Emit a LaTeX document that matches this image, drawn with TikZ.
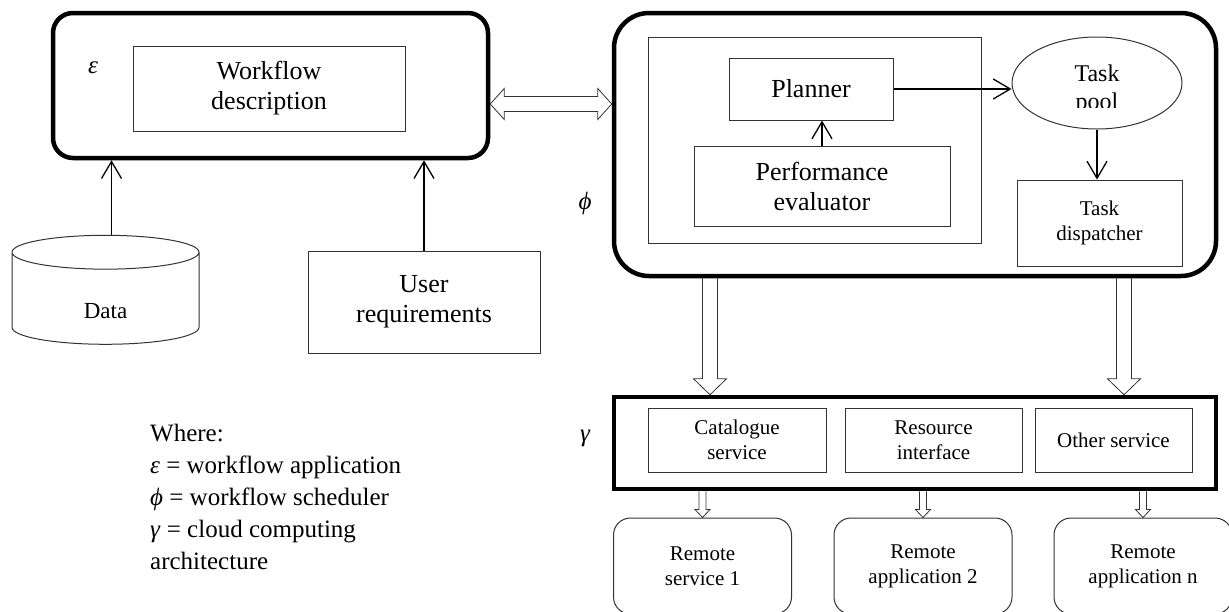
\documentclass[tikz,border=0pt]{standalone}
\usepackage{fontspec}
\setmainfont{Liberation Serif}
\usepackage{amsmath}
\usepackage{tikz}
\usetikzlibrary{shapes,arrows.meta,calc,positioning}
\tikzset{
  thickR/.style={ draw, line width=4.5pt, rounded corners=#1, inner sep=0pt }
}
\tikzset{
  boxL/.style={ draw=black!80, line width=1pt, align=center, inner sep=0pt, font=\fontsize{26}{30}\selectfont }
}
\tikzset{
  boxS/.style={ draw=black!80, line width=1pt, align=center, inner sep=0pt, font=\fontsize{21}{25}\selectfont }
}
\tikzset{
  remote/.style={ boxS, rounded corners=17pt, minimum width=178pt, minimum height=96pt }
}
\tikzset{
  symb/.style={ inner sep=0pt, font=\fontsize{25}{25}\selectfont\itshape }
}
\tikzset{
  conn/.style={ line width=1.3pt, -{Straight Barb[length=17pt, width=20pt]} }
}
% fat hollow arrow: shaft half width / head half width / head length
\tikzset{
  hollow/.style args={#1/#2/#3}{ draw=black!80, line width=0.8pt, to path={
    let \p1=($(\tikztotarget)!#3!(\tikztostart)$) in
    ($(\tikztostart)!#1!90:(\tikztotarget)$) -- ($(\p1)!#1!90:(\tikztotarget)$)
    -- ($(\p1)!#2!90:(\tikztotarget)$) -- (\tikztotarget)
    -- ($(\p1)!#2!-90:(\tikztotarget)$) -- ($(\p1)!#1!-90:(\tikztotarget)$)
    -- ($(\tikztostart)!#1!-90:(\tikztotarget)$) }}
}
\tikzset{
  hollowD/.style args={#1/#2/#3}{ draw=black!80, line width=0.8pt, to path={
    let \p1=($(\tikztostart)!#3!(\tikztotarget)$), \p2=($(\tikztotarget)!#3!(\tikztostart)$) in
    (\tikztostart) -- ($(\p1)!#2!90:(\tikztotarget)$) -- ($(\p1)!#1!90:(\tikztotarget)$)
    -- ($(\p2)!#1!90:(\tikztotarget)$) -- ($(\p2)!#2!90:(\tikztotarget)$) -- (\tikztotarget)
    -- ($(\p2)!#2!-90:(\tikztotarget)$) -- ($(\p2)!#1!-90:(\tikztotarget)$)
    -- ($(\p1)!#1!-90:(\tikztotarget)$) -- ($(\p1)!#2!-90:(\tikztotarget)$) -- cycle }}
}
\newcommand{\grk}[1]{\textit{#1}}

\begin{document}
\begin{tikzpicture}[x=1pt, y=-1pt]
  \useasboundingbox (0,0) rectangle (1229,611);
  \clip (0,0) rectangle (1229,611);
  % workflow application
  \node[thickR=20pt, minimum width=435pt, minimum height=145pt] (eps) at (270.5,85.5) {};
  \node[boxL, minimum width=272pt, minimum height=85pt] (wf) at (269,88.5) {Workflow\\description};
  \node[symb] (epsl) at (93,68) {ε};
  \node[draw=black!80, line width=1pt, cylinder, shape border rotate=90, aspect=0.78,
        minimum width=187pt, minimum height=109pt, inner sep=0pt, text height=40pt, text depth=0pt,
        font=\fontsize{23}{27}\selectfont] (data) at (105.5,298.5) {Data};
  \node[boxL, minimum width=232pt, minimum height=102pt] (user) at (424,302) {User\\requirements};
  \draw[conn] ([xshift=6pt]data.north) -- ([xshift=6pt]data.north |- eps.south);
  \draw[conn] (user.north) -- (user.north |- eps.south);
  % workflow scheduler
  \node[thickR=35pt, minimum width=602pt, minimum height=263pt] (phi) at (915,144.5) {};
  \node[boxL, minimum width=333pt, minimum height=206pt] (inner) at (814.5,140) {};
  \node[boxL, minimum width=164pt, minimum height=62pt] (plan) at (811,89) {Planner};
  \node[boxL, minimum width=256pt, minimum height=80pt] (perf) at (822,186) {Performance\\evaluator};
  \node[draw=black!80, line width=1pt, ellipse, minimum width=170pt, minimum height=92pt, inner sep=0pt] (pool) at (1097,83) {};
  \begin{scope}
    \clip (1012,37) rectangle (1182,107);
    \node[align=center, inner sep=0pt, font=\fontsize{24}{28}\selectfont] (pooltxt) at (1097,90) {Task\\pool};
  \end{scope}
  \node[boxS, minimum width=165pt, minimum height=86pt] (disp) at (1099.5,223) {Task\\dispatcher};
  \node[symb] (phil) at (585,203) {ϕ};
  \draw[conn] (perf.north) -- (perf.north |- plan.south);
  \draw[conn] (plan.east) -- (plan.east -| pool.west);
  \draw[conn] (pool.south) -- (pool.south |- disp.north);
  \coordinate (lk) at (550,104);
  \draw[hollowD=7.5pt/15.5pt/14pt] (lk -| eps.east) to (lk -| phi.west);
  % cloud computing architecture
  \node[draw, line width=4.5pt, minimum width=602pt, minimum height=92pt, inner sep=0pt] (gam) at (915,443) {};
  \node[boxS, minimum width=178pt, minimum height=64pt] (cat) at (737,440) {Catalogue\\service};
  \node[boxS, minimum width=177pt, minimum height=64pt] (res) at (933.5,440) {Resource\\interface};
  \node[boxS, minimum width=157pt, minimum height=64pt] (oth) at (1113.5,440) {Other service};
  \node[symb] (gaml) at (585,438) {γ};
  \coordinate (a1) at (710,0);
  \coordinate (a2) at (1124,0);
  \draw[hollow=7.5pt/16.5pt/16pt] (a1 |- phi.south) to (a1 |- gam.north);
  \draw[hollow=7.5pt/16.5pt/16pt] (a2 |- phi.south) to (a2 |- gam.north);
  \node[remote] (r1) at (702.5,566) {Remote\\service 1};
  \node[remote] (r2) at (923,566) {Remote\\application 2};
  \node[remote] (r3) at (1143,566) {Remote\\application n};
  \foreach \rb in {r1,r2,r3}
    \draw[hollow=3.5pt/7.5pt/8pt] (\rb.north |- gam.south) to (\rb.north);
  % legend
  \node[align=left, anchor=north west, inner sep=0pt, font=\fontsize{25}{32}\selectfont] (legend) at (150,424)
    {Where:\\\grk{ε} = workflow application\\\grk{ϕ} = workflow scheduler\\\grk{γ} = cloud computing\\architecture};
\end{tikzpicture}
\end{document}
